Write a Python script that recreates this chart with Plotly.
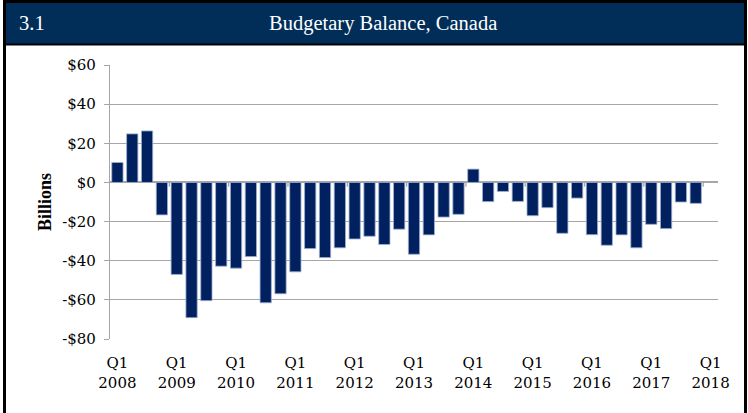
import plotly.graph_objects as go

quarters = [f"Q{q} {y}" for y in range(2008, 2018) for q in range(1, 5)] + ["Q1 2018"]
balance = [10.2, 24.8, 26.3, -16.6, -47.0, -69.1, -60.4, -42.8, -43.8, -37.9,
           -61.5, -56.9, -45.7, -33.8, -38.4, -33.4, -28.9, -27.5, -31.7, -23.9,
           -36.7, -26.8, -17.7, -16.3, 6.8, -9.8, -4.6, -9.7, -17.0, -12.9,
           -26.0, -8.0, -26.7, -32.1, -26.8, -33.4, -21.4, -23.6, -10.0, -10.7,
           None]
tick_idx = list(range(0, 41, 4))
tick_text = [f"Q1<br>{2008 + i // 4}" for i in tick_idx]
y_ticks = [60, 40, 20, 0, -20, -40, -60, -80]
y_text = ["$60", "$40", "$20", "$0", "-$20", "-$40", "-$60", "-$80"]

W, H = 748, 413
L, R, T, B = 110, 718, 65, 339


def px(x):
    return (x - L) / (R - L)


def py(y):
    return (B - y) / (B - T)


font = "Liberation Serif, DejaVu Serif, serif"
tfont = "DejaVu Serif, Liberation Serif, serif"
navy = "#002E58"
grid = "#a6a6a6"

fig = go.Figure()
fig.add_trace(go.Bar(
    x=list(range(len(quarters))), y=balance,
    marker=dict(color="#00205F", line=dict(color="#9fb0d0", width=0.8)),
    width=0.76, hoverinfo="y",
))

shapes = []
# x-axis zero line tick marks at category boundaries
for k in range(1, 11):
    shapes.append(dict(type="line", xref="x", yref="y", x0=4 * k - 0.5, x1=4 * k - 0.5,
                       y0=0, y1=-2.2, line=dict(color=grid, width=1.3)))
# header band
shapes.append(dict(type="rect", xref="paper", yref="paper", x0=px(5), x1=px(744),
                   y0=py(44), y1=py(2.5), fillcolor=navy, line=dict(width=0), layer="below"))
shapes.append(dict(type="line", xref="paper", yref="paper", x0=px(5), x1=px(744),
                   y0=py(44.5), y1=py(44.5), line=dict(color="black", width=2)))
# outer frame
shapes.append(dict(type="rect", xref="paper", yref="paper", x0=px(4.5), x1=px(745.5),
                   y0=py(440), y1=py(1.5), line=dict(color="black", width=3),
                   fillcolor="rgba(0,0,0,0)"))

fig.update_layout(
    width=W, height=H,
    margin=dict(l=L, r=W - R, t=T, b=H - B),
    paper_bgcolor="white", plot_bgcolor="white",
    showlegend=False, bargap=0.24,
    font=dict(family=font, color="black"),
    shapes=shapes,
    xaxis=dict(range=[-0.5, 40.5], tickmode="array", tickvals=tick_idx, ticktext=tick_text,
               showgrid=False, zeroline=False, showline=False, ticks="",
               tickfont=dict(size=15, family=tfont, color="black"), ticklabelstandoff=13),
    yaxis=dict(range=[-80, 60], tickmode="array", tickvals=y_ticks, ticktext=y_text,
               showgrid=True, gridcolor=grid, gridwidth=1.3,
               zeroline=True, zerolinecolor=grid, zerolinewidth=1.6,
               showline=True, linecolor=grid, linewidth=1.3,
               ticks="outside", ticklen=5, tickcolor=grid, tickwidth=1.3,
               ticklabelstandoff=5,
               tickfont=dict(size=15, family=tfont, color="black")),
    annotations=[
        dict(text="3.1", x=px(17), y=py(23), xref="paper", yref="paper", xanchor="left",
             yanchor="middle", showarrow=False, font=dict(size=20.5, color="white", family=font)),
        dict(text="Budgetary Balance, Canada", x=px(383), y=py(23), xref="paper", yref="paper",
             xanchor="center", yanchor="middle", showarrow=False,
             font=dict(size=20.5, color="white", family=font)),
        dict(text="<b>Billions</b>", x=px(45), y=py(202), xref="paper", yref="paper",
             textangle=-90, xanchor="center", yanchor="middle", showarrow=False,
             font=dict(size=18, color="black", family=font)),
    ],
)

fig.write_html("out.html")
